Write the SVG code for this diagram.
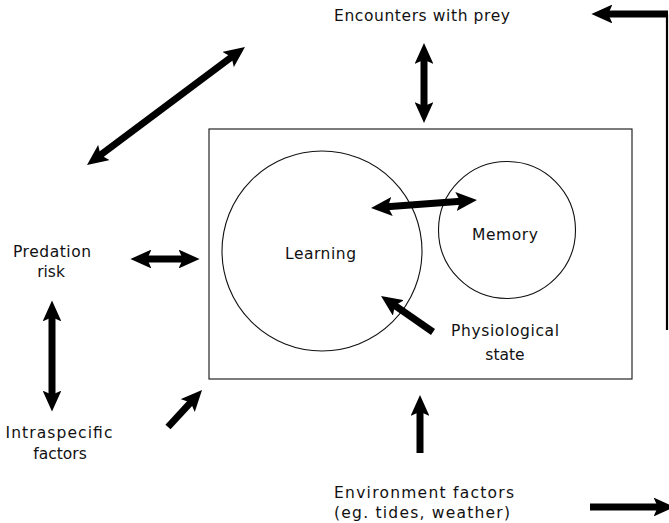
<svg xmlns="http://www.w3.org/2000/svg" width="669" height="523" viewBox="0 0 669 523">
<style>
.lbl{font-family:"DejaVu Sans","Liberation Sans",sans-serif;font-size:15.5px;fill:#111;text-anchor:middle}
.thin{fill:none;stroke:#111;stroke-width:1.1}
.arr{fill:none;stroke:#000;stroke-width:7}
</style>
<defs>
<marker id="ah" markerUnits="strokeWidth" viewBox="0 0 20 18" markerWidth="3" markerHeight="2.7" refX="8" refY="9" orient="auto-start-reverse">
<path d="M0,0 L20,9 L0,18 L4,9 z" fill="#000"/>
</marker>
</defs>
<rect width="669" height="523" fill="#fff"/>
<g id="box"><rect class="thin" x="209" y="129" width="423" height="250"/></g>
<g id="learning"><circle class="thin" cx="322" cy="251" r="100"/><text class="lbl" x="320.5" y="259" font-size="16.5" textLength="71" lengthAdjust="spacing">Learning</text></g>
<g id="memory"><circle class="thin" cx="507" cy="230" r="68.5"/><text class="lbl" x="505" y="240" font-size="16.5" textLength="66" lengthAdjust="spacing">Memory</text></g>
<g id="encounters"><text class="lbl" x="422" y="21" textLength="176" lengthAdjust="spacing">Encounters with prey</text></g>
<g id="predation"><text class="lbl" x="52" y="257" textLength="78" lengthAdjust="spacing">Predation</text><text class="lbl" x="51" y="277">risk</text></g>
<g id="intraspecific"><text class="lbl" x="59" y="438" textLength="107" lengthAdjust="spacing">Intraspecific</text><text class="lbl" x="60" y="459">factors</text></g>
<g id="physiological"><text class="lbl" x="505" y="336" textLength="108" lengthAdjust="spacing">Physiological</text><text class="lbl" x="505" y="360">state</text></g>
<g id="environment"><text class="lbl" x="424" y="498" textLength="180" lengthAdjust="spacing">Environment factors</text><text class="lbl" x="422" y="518" textLength="176" lengthAdjust="spacing">(eg. tides, weather)</text></g>
<g id="connectors">
<line class="arr" x1="97.1" y1="157.5" x2="234.9" y2="54.5" marker-start="url(#ah)" marker-end="url(#ah)"/>
<line class="arr" x1="424" y1="55.6" x2="424" y2="110.4" marker-start="url(#ah)" marker-end="url(#ah)"/>
<line class="arr" x1="383.6" y1="207.1" x2="464.4" y2="200.9" marker-start="url(#ah)" marker-end="url(#ah)"/>
<line class="arr" x1="143" y1="259" x2="187" y2="259" stroke-width="5.5" marker-start="url(#ah)" marker-end="url(#ah)"/>
<line class="arr" x1="52" y1="313" x2="52" y2="399" stroke-width="4.5" marker-start="url(#ah)" marker-end="url(#ah)"/>
<line class="arr" x1="168" y1="427" x2="193.5" y2="399.3" marker-end="url(#ah)"/>
<line class="arr" x1="433" y1="332" x2="391.4" y2="303.2" marker-end="url(#ah)"/>
<line class="arr" x1="420" y1="453" x2="420" y2="407.6" marker-end="url(#ah)"/>
<line class="arr" x1="590" y1="507" x2="662" y2="507" stroke-width="5" marker-end="url(#ah)"/>
<line stroke="#000" stroke-width="2.2" x1="667" y1="330" x2="667" y2="14"/>
<polyline class="arr" stroke-width="4" points="668,14 604,14" marker-end="url(#ah)"/>
</g>
</svg>
